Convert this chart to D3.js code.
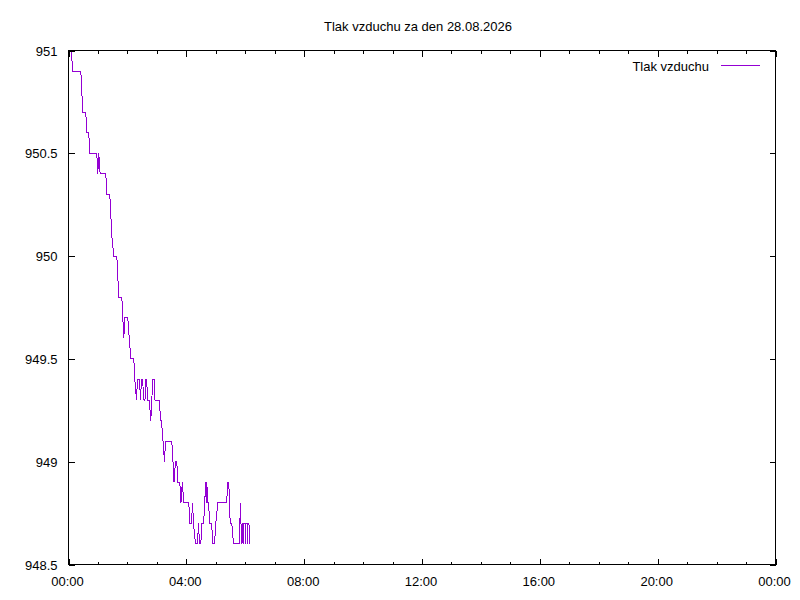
<!DOCTYPE html>
<html>
<head>
<meta charset="utf-8">
<script src="https://cdn.jsdelivr.net/npm/d3@7"></script>
<style>
  html, body { margin: 0; padding: 0; background: #fff; }
  svg text { font-family: "Liberation Sans", Arial, sans-serif; font-size: 13px; fill: #000; }
</style>
</head>
<body>
<svg id="chart" width="800" height="600"></svg>
<script>
// ---- data (minutes since midnight, air pressure in hPa) ----
const title = "Tlak vzduchu za den 28.08.2026";
const seriesName = "Tlak vzduchu";
const times = [
  6.1, 8.1, 25.1, 29.1, 35.2, 37.3, 41.3, 43.4, 57.6, 59.7, 61.7, 64.4,
  76.0, 78.0, 84.1, 86.2, 88.2, 92.3, 98.4, 100.4, 102.4, 108.6, 112.6, 114.7,
  120.8, 123.8, 126.9, 133.0, 135.0, 138.5, 140.5, 144.6, 146.6, 148.7, 150.7,
  153.8, 155.8, 156.8, 158.9, 161.5, 164.6, 167.6, 171.7, 174.8, 176.2, 185.3,
  187.4, 189.4, 192.5, 195.5, 197.6, 210.4, 212.8, 214.9, 217.9, 220.6, 222.6,
  226.7, 229.1, 231.8, 234.8, 245.0, 247.1, 250.5, 252.6, 254.6, 258.7, 262.7,
  264.8, 266.8, 269.5, 271.5, 275.0, 277.6, 279.0, 280.5, 281.7, 283.7, 285.1,
  287.8, 291.3, 294.3, 297.4, 300.0, 304.1, 321.8, 324.9, 326.5, 329.3, 332.6,
  336.1, 347.7, 350.3, 352.4, 353.4, 354.4, 355.8, 357.0, 359.5, 360.5, 361.5,
  363.6, 364.6, 365.6, 367.6, 368.7
];
const values = [
  951.0, 950.9, 950.9, 950.7, 950.7, 950.6, 950.6, 950.5, 950.5, 950.4, 950.5, 950.4,
  950.4, 950.3, 950.3, 950.2, 950.1, 950.0, 950.0, 949.9, 949.8, 949.8, 949.6, 949.7,
  949.7, 949.6, 949.5, 949.5, 949.4, 949.3, 949.4, 949.4, 949.3, 949.4, 949.4,
  949.3, 949.3, 949.4, 949.4, 949.3, 949.3, 949.2, 949.4, 949.4, 949.3, 949.3,
  949.2, 949.2, 949.1, 949.0, 949.1, 949.1, 949.0, 948.9, 949.0, 949.0, 948.9,
  948.9, 948.8, 948.9, 948.8, 948.8, 948.7, 948.7, 948.8, 948.7, 948.6, 948.6,
  948.7, 948.6, 948.6, 948.7, 948.7, 948.8, 948.9, 948.8, 948.9, 948.8, 948.8,
  948.7, 948.7, 948.6, 948.6, 948.7, 948.8, 948.8, 948.9, 948.9, 948.7, 948.7,
  948.6, 948.6, 948.8, 948.6, 948.6, 948.7, 948.6, 948.7, 948.7, 948.6, 948.7,
  948.7, 948.6, 948.7, 948.7, 948.6
];
const yTicks = [948.5, 949, 949.5, 950, 950.5, 951];
const yTickLabels = ["948.5", "949", "949.5", "950", "950.5", "951"];
const xMajorTicks = [0, 240, 480, 720, 960, 1200, 1440];
const xTickLabels = ["00:00", "04:00", "08:00", "12:00", "16:00", "20:00", "00:00"];
const xMinorTicks = d3.range(0, 1441, 60);

// ---- layout ----
const svg = d3.select("#chart");
const L = 68.5, R = 775.5, T = 50.5, B = 564.5;
const x = d3.scaleLinear().domain([0, 1440]).range([L, R]);
const y = d3.scaleLinear().domain([948.5, 951]).range([B, T]);
const color = "#9400D3";
const majorLen = 6, minorLen = 3;

const g = svg.append("g").attr("shape-rendering", "crispEdges");

// data line (clipped to plot area)
svg.append("clipPath").attr("id", "clip")
  .append("rect").attr("x", L).attr("y", T).attr("width", R - L).attr("height", B - T);

const pts = times.map((t, i) => [t, values[i]]);
g.append("path")
  .datum(pts)
  .attr("clip-path", "url(#clip)")
  .attr("fill", "none")
  .attr("stroke", color)
  .attr("stroke-width", 1)
  .attr("d", d3.line().x(d => x(d[0])).y(d => y(d[1])));

// axes via d3 axis generators (ticks drawn inward)
const axisStyle = sel => {
  sel.select(".domain").remove();
  sel.selectAll("line").attr("stroke", "#000").attr("stroke-width", 1);
  sel.selectAll("text").style("font-family", '"Liberation Sans", Arial, sans-serif').style("font-size", "13px");
};

// bottom minor
g.append("g").attr("transform", `translate(0,${B})`)
  .call(d3.axisBottom(x).tickValues(xMinorTicks).tickSize(-minorLen).tickFormat(""))
  .call(axisStyle);
// bottom major with labels
g.append("g").attr("transform", `translate(0,${B})`)
  .call(d3.axisBottom(x).tickValues(xMajorTicks).tickSize(-majorLen).tickPadding(15)
    .tickFormat((d, i) => xTickLabels[i]))
  .call(axisStyle)
  .call(s => s.selectAll("text").attr("dy", 0).attr("y", 21.5).attr("dx", -1.5));
// top minor + major
g.append("g").attr("transform", `translate(0,${T})`)
  .call(d3.axisTop(x).tickValues(xMinorTicks).tickSize(-minorLen).tickFormat(""))
  .call(axisStyle);
g.append("g").attr("transform", `translate(0,${T})`)
  .call(d3.axisTop(x).tickValues(xMajorTicks).tickSize(-majorLen).tickFormat(""))
  .call(axisStyle);
// left with labels
g.append("g").attr("transform", `translate(${L},0)`)
  .call(d3.axisLeft(y).tickValues(yTicks).tickSize(-majorLen).tickPadding(11)
    .tickFormat((d, i) => yTickLabels[i]))
  .call(axisStyle)
  .call(s => s.selectAll("text").attr("dy", "0.35em"));
// right mirror
g.append("g").attr("transform", `translate(${R},0)`)
  .call(d3.axisRight(y).tickValues(yTicks).tickSize(-majorLen).tickFormat(""))
  .call(axisStyle);

// border
g.append("rect").attr("x", L).attr("y", T).attr("width", R - L).attr("height", B - T)
  .attr("fill", "none").attr("stroke", "#000").attr("stroke-width", 1);

// title
svg.append("text").attr("x", 418).attr("y", 31).attr("text-anchor", "middle").text(title);

// legend
svg.append("text").attr("x", 709).attr("y", 71).attr("text-anchor", "end").text(seriesName);
g.append("line").attr("x1", 721).attr("x2", 760).attr("y1", 65.5).attr("y2", 65.5)
  .attr("stroke", color).attr("stroke-width", 1);
</script>
</body>
</html>
